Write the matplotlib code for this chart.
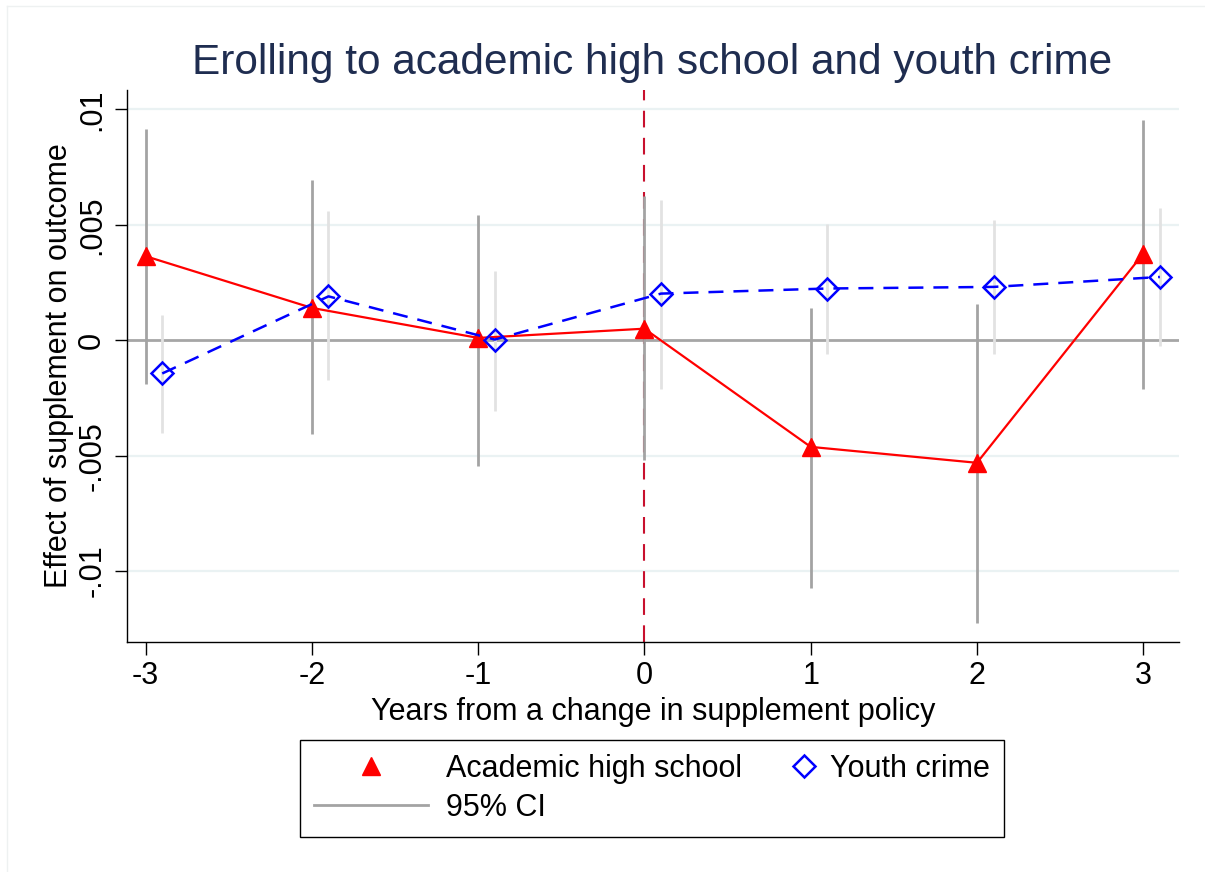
import numpy as np
import matplotlib.pyplot as plt
from matplotlib.lines import Line2D
from matplotlib.legend_handler import HandlerBase

plt.rcParams['font.family'] = ['Liberation Sans', 'DejaVu Sans']

# event time
years = np.array([-3, -2, -1, 0, 1, 2, 3])

# academic high school estimates and 95% CI
acad = np.array([0.00364, 0.0014, 0.0001, 0.0005, -0.00462, -0.00531, 0.00375])
acad_lo = np.array([-0.00188, -0.00408, -0.00545, -0.0052, -0.01075, -0.01224, -0.00213])
acad_hi = np.array([0.00916, 0.00693, 0.00544, 0.00623, 0.0014, 0.00156, 0.00955])

# youth crime estimates and 95% CI (plotted shifted by +0.1)
crime = np.array([-0.00144, 0.0019, 0.00003, 0.00202, 0.00224, 0.00231, 0.00274])
crime_lo = np.array([-0.004, -0.00173, -0.00306, -0.0021, -0.00058, -0.00058, -0.00025])
crime_hi = np.array([0.00108, 0.00558, 0.003, 0.00609, 0.00505, 0.00522, 0.00574])
shift = 0.1

yticks = [-0.01, -0.005, 0, 0.005, 0.01]
yticklabels = ['-.01', '-.005', '0', '.005', '.01']


class RightMarker(HandlerBase):
    # legend handle with the marker sitting at the right end of the handle box
    def create_artists(self, legend, orig_handle, xdescent, ydescent, width, height, fontsize, trans):
        m = Line2D([width - xdescent - 6], [height / 2 - ydescent], linestyle='none',
                   marker=orig_handle.get_marker(), markersize=orig_handle.get_markersize(),
                   markeredgecolor=orig_handle.get_markeredgecolor(),
                   markerfacecolor=orig_handle.get_markerfacecolor(),
                   markeredgewidth=orig_handle.get_markeredgewidth())
        m.set_transform(trans)
        return [m]


fig = plt.figure(figsize=(12.05, 8.72), dpi=100)
ax = fig.add_axes([0.1051, 0.2641, 0.9784 - 0.1051, 0.8968 - 0.2641])

# faint screenshot border
fig.add_artist(Line2D([7 / 1205, 1], [1 - 6 / 872, 1 - 6 / 872], color='#eef1f1', lw=1))
fig.add_artist(Line2D([7 / 1205, 7 / 1205], [0, 1 - 6 / 872], color='#eef1f1', lw=1))

for y in yticks:
    if y != 0:
        ax.axhline(y, color='#eaf2f3', lw=1.6, zorder=0)
ax.axhline(0, color='#a6a6a6', lw=2, zorder=1)
ax.axvline(0, color='#c8102e', lw=1.5, dashes=(8, 5), zorder=1)

ax.vlines(years, acad_lo, acad_hi, color='#a3a3a3', lw=2, zorder=2)
ax.vlines(years + shift, crime_lo, crime_hi, color='#e2e2e2', lw=2, zorder=2)

ax.plot(years, acad, color='red', lw=1.6, marker='^', markersize=13,
        markeredgecolor='red', markerfacecolor='red', zorder=3)
ax.plot(years + shift, crime, color='blue', lw=1.8, dashes=(6, 4), marker='D', markersize=11,
        markeredgecolor='blue', markerfacecolor='none', markeredgewidth=1.8, zorder=4)

ax.set_xlim(-3.114, 3.215)
ax.set_ylim(-0.01306, 0.01084)
ax.set_xticks(years)
ax.set_xticklabels([str(v) for v in years])
ax.set_yticks(yticks)
ax.set_yticklabels(yticklabels, rotation=90, va='center')
ax.tick_params(axis='both', direction='out', length=9, width=1, labelsize=22)
ax.tick_params(axis='y', pad=5)
ax.tick_params(axis='x', pad=5)
for s in ['top', 'right']:
    ax.spines[s].set_visible(False)
ax.spines['left'].set_linewidth(1)
ax.spines['bottom'].set_linewidth(1)

ax.set_xlabel('Years from a change in supplement policy', fontsize=22, labelpad=4)
ax.set_ylabel('Effect of supplement on outcome', fontsize=22, labelpad=2)
fig.text(0.541, 1 - 63 / 872, 'Erolling to academic high school and youth crime',
         fontsize=30.5, color='#1f2d50', ha='center', va='center')

h_acad = Line2D([], [], linestyle='none', marker='^', markersize=13, color='red')
h_ci = Line2D([], [], color='#a3a3a3', lw=2)
h_crime = Line2D([], [], linestyle='none', marker='D', markersize=11, markeredgecolor='blue',
                 markerfacecolor='none', markeredgewidth=1.8)
leg = fig.legend([h_acad, h_ci, h_crime], ['Academic high school', '95% CI', 'Youth crime'],
                 ncol=2, loc='center', bbox_to_anchor=(0.541, 1 - 788.5 / 872),
                 fontsize=22, handlelength=3.76, handletextpad=0.59, columnspacing=-1.47,
                 labelspacing=0.3, borderpad=0.45, borderaxespad=0, fancybox=False,
                 edgecolor='black', framealpha=1, handler_map={h_crime: RightMarker()})
leg.get_frame().set_linewidth(1)

plt.savefig('out.png', dpi=100)
